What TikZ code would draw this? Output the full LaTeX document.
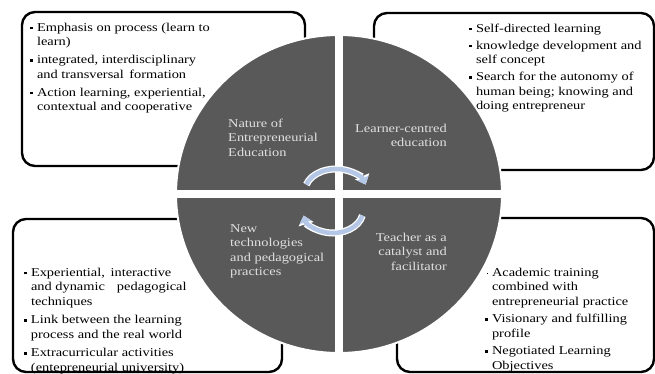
\documentclass[tikz,border=0pt]{standalone}
\usepackage{fontspec}
\setmainfont[FakeStretch=1.2]{Liberation Serif}
\usetikzlibrary{arrows.meta}

\definecolor{pie}{RGB}{89,89,89}
\definecolor{pietext}{RGB}{224,224,224}
\definecolor{cycblue}{RGB}{180,199,231}

\newcommand\sqbul{\rule[2pt]{2.8pt}{2.8pt}}
\newcommand\dotbul{\hfill\rule[2.5pt]{1.3pt}{1.3pt}}

\begin{document}
\begin{tikzpicture}[
  x=1pt, y=-1pt,
  font=\fontsize{12}{14.5}\selectfont,
  card/.style={draw, line width=2.4pt, rounded corners=13pt},
  items/.style={anchor=north west, inner sep=0pt},
  pielabel/.style={inner sep=0pt, text=pietext},
  gapline/.style={draw=white, line width=8pt},
  roundarr/.style={draw=cycblue, line width=4.5pt, -{Triangle[length=7pt,width=12pt]},
                   preaction={draw=white, line width=7pt, -{Triangle[length=9pt,width=15pt]}}}
]
\useasboundingbox (0,0) rectangle (655,374);

% the four cards sit behind the pie
\draw[card] (22,12) rectangle (305,166);
\draw[card] (374,13) rectangle (654,170);
\draw[card] (13,219) rectangle (282,372);
\draw[card] (397,218) rectangle (654,372);

\node[items] (naturelist) at (30,21) {\begin{tabular}{@{}l@{\hspace{4pt}}l@{}}
  \sqbul & Emphasis on process (learn to\\
         & learn)\\[3.5pt]
  \sqbul & integrated, interdisciplinary\\
         & and transversal\, formation\\[3.5pt]
  \sqbul & Action learning, experiential,\\
         & contextual and cooperative
\end{tabular}};
\node[items] (learnerlist) at (469,22) {\begin{tabular}{@{}l@{\hspace{4pt}}l@{}}
  \sqbul & Self-directed learning\\[2.5pt]
  \sqbul & knowledge development and\\
         & self concept\\[2.5pt]
  \sqbul & Search for the autonomy of\\
         & human being; knowing and\\
         & doing entrepreneur
\end{tabular}};
\node[items] (techlist) at (24,266) {\begin{tabular}{@{}l@{\hspace{4pt}}l@{}}
  \sqbul & Experiential,\, interactive\\
         & and dynamic\quad pedagogical\\
         & techniques\\[4pt]
  \sqbul & Link between the learning\\
         & process and the real world\\[4pt]
  \sqbul & Extracurricular activities\\
         & (entepreneurial university)
\end{tabular}};
\node[items] (teacherlist) at (485,266) {\begin{tabular}{@{}l@{\hspace{4pt}}l@{}}
  \dotbul & Academic training\\
          & combined with\\
          & entrepreneurial practice\\[3pt]
  \sqbul  & Visionary and fulfilling\\
          & profile\\[3pt]
  \sqbul  & Negotiated Learning\\
          & Objectives
\end{tabular}};

% pie split into quarters by white gaps
\coordinate (hub) at (339,194);
\filldraw[fill=pie, draw=white, line width=2pt] (hub) ellipse [x radius=163, y radius=159];
\draw[gapline] (339,35) -- (339,353);
\draw[gapline] (176,194) -- (502,194);

\node[pielabel, anchor=north west] (nature) at (228,117)
  {\begin{tabular}{@{}l@{}}Nature of\\ Entrepreneurial\\ Education\end{tabular}};
\node[pielabel, anchor=north east] (learner) at (447,122)
  {\begin{tabular}{@{}r@{}}Learner-centred\\ education\end{tabular}};
\node[pielabel, anchor=north west] (newtech) at (230,222)
  {\begin{tabular}{@{}l@{}}New\\ technologies\\ and pedagogical\\ practices\end{tabular}};
\node[pielabel, anchor=north east] (teacher) at (447,231)
  {\begin{tabular}{@{}r@{}}Teacher as a\\ catalyst and\\ facilitator\end{tabular}};

% two arrows turning clockwise in the middle (angles on the page, y up)
\coordinate (uparc) at (336,191);
\coordinate (lowarc) at (333,211);
\draw[roundarr] (uparc) ++(163:31pt and 22pt)
  arc[start angle=163, end angle=17, x radius=31pt, y radius=22pt];
\draw[roundarr] (lowarc) ++(-12:30pt and 22pt)
  arc[start angle=-12, end angle=-168, x radius=30pt, y radius=22pt];
\end{tikzpicture}
\end{document}
